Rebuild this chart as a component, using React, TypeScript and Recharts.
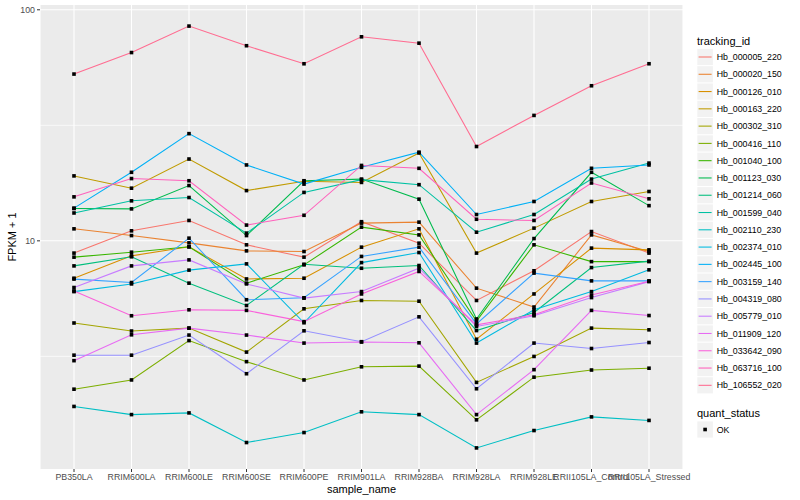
import { LineChart, Line, XAxis, YAxis, CartesianGrid, Label } from 'recharts';

const FONT = '"Liberation Sans", Arial, Helvetica, sans-serif';

const samples = [
  'PB350LA', 'RRIM600LA', 'RRIM600LE', 'RRIM600SE', 'RRIM600PE', 'RRIM901LA',
  'RRIM928BA', 'RRIM928LA', 'RRIM928LE', 'RRII105LA_Control', 'RRII105LA_Stressed',
];

const trackingIds = [
  'Hb_000005_220', 'Hb_000020_150', 'Hb_000126_010', 'Hb_000163_220', 'Hb_000302_310',
  'Hb_000416_110', 'Hb_001040_100', 'Hb_001123_030', 'Hb_001214_060', 'Hb_001599_040',
  'Hb_002110_230', 'Hb_002374_010', 'Hb_002445_100', 'Hb_003159_140', 'Hb_004319_080',
  'Hb_005779_010', 'Hb_011909_120', 'Hb_033642_090', 'Hb_063716_100', 'Hb_106552_020',
];

// ggplot default hue palette, 20 levels
const lineColors = [
  '#F8766D', '#EA8331', '#D89000', '#C09B00', '#A3A500', '#7CAE00', '#39B600', '#00BB4E',
  '#00BF7D', '#00C1A3', '#00BFC4', '#00BAE0', '#00B0F6', '#35A2FF', '#9590FF', '#C77CFF',
  '#E76BF3', '#FA62DB', '#FF62BC', '#FF6C91',
];

// FPKM + 1, one value per sample
const hb000005_220 = [8.85, 11.05, 12.25, 9.61, 8.5, 12.1, 9.77, 5.52, 7.42, 10.97, 8.85];
const hb000020_150 = [11.27, 10.54, 9.8, 9.05, 8.99, 11.93, 12.05, 6.24, 5.17, 10.61, 8.99];
const hb000126_010 = [6.89, 8.61, 9.42, 6.84, 6.89, 9.39, 11.27, 3.75, 5.89, 9.3, 9.14];
const hb000163_220 = [19.1, 16.9, 22.6, 16.5, 18.1, 17.9, 24.0, 8.85, 11.35, 14.8, 16.35];
const hb000302_310 = [4.41, 4.07, 4.19, 3.3, 5.08, 5.52, 5.48, 2.44, 3.16, 4.19, 4.12];
const hb000416_110 = [2.28, 2.5, 3.7, 3.0, 2.5, 2.85, 2.87, 1.68, 2.57, 2.76, 2.81];
const hb001040_100 = [8.5, 8.93, 9.42, 6.56, 7.87, 11.46, 10.61, 4.5, 9.61, 8.13, 8.13];
const hb001123_030 = [13.8, 13.75, 17.35, 10.54, 18.2, 18.5, 15.15, 4.59, 10.23, 19.8, 14.2];
const hb001214_060 = [7.79, 8.53, 6.56, 5.25, 7.92, 7.61, 7.82, 4.09, 4.9, 7.66, 8.17];
const hb001599_040 = [13.2, 14.9, 15.4, 10.8, 16.2, 18.4, 17.5, 10.9, 13.0, 18.5, 21.7];
const hb002110_230 = [1.92, 1.77, 1.8, 1.34, 1.48, 1.82, 1.77, 1.27, 1.51, 1.73, 1.67];
const hb002374_010 = [6.03, 6.51, 7.47, 7.95, 4.42, 8.05, 8.9, 3.61, 5.03, 6.03, 7.49];
const hb002445_100 = [13.85, 19.8, 29.1, 21.3, 17.6, 20.8, 24.2, 13.0, 14.8, 20.6, 21.3];
const hb003159_140 = [6.83, 6.6, 10.27, 5.56, 5.67, 8.56, 9.39, 4.37, 7.25, 6.71, 6.71];
const hb004319_080 = [3.2, 3.2, 3.91, 2.66, 4.08, 3.66, 4.69, 2.29, 3.61, 3.42, 3.63];
const hb005779_010 = [6.28, 7.79, 8.27, 6.51, 5.65, 6.03, 7.61, 4.26, 4.74, 5.68, 6.66];
const hb011909_120 = [3.03, 3.92, 4.19, 3.91, 3.61, 3.65, 3.62, 1.77, 2.77, 5.0, 4.75];
const hb033642_090 = [6.07, 4.74, 5.03, 5.0, 4.47, 5.89, 7.37, 4.33, 4.79, 5.83, 6.69];
const hb063716_100 = [15.5, 18.6, 18.2, 11.7, 12.9, 21.2, 20.6, 12.4, 12.25, 17.8, 15.2];
const hb106552_020 = [52.7, 65.3, 85.0, 69.9, 58.4, 76.4, 71.7, 25.6, 34.9, 46.9, 58.4];

const seriesValues = [
  hb000005_220, hb000020_150, hb000126_010, hb000163_220, hb000302_310,
  hb000416_110, hb001040_100, hb001123_030, hb001214_060, hb001599_040,
  hb002110_230, hb002374_010, hb002445_100, hb003159_140, hb004319_080,
  hb005779_010, hb011909_120, hb033642_090, hb063716_100, hb106552_020,
];

const yTicks = [10, 100];
const yMinor = [Math.sqrt(10), 10 * Math.sqrt(10)];

const data = samples.map((sample, i) => {
  const row: Record<string, any> = { sample };
  trackingIds.forEach((id, k) => {
    row[id] = seriesValues[k][i];
  });
  return row;
});

// ggplot-style 5% expansion on the log scale
const allVals = seriesValues.flat();
const logLo = Math.log10(Math.min(...allVals));
const logHi = Math.log10(Math.max(...allVals));
const ext = (logHi - logLo) * 0.05;
const yDomain = [10 ** (logLo - ext), 10 ** (logHi + ext)];

// minor grid rows: place them with the same log mapping the y axis uses
const minorRows = (props: any) => {
  const off = props?.offset;
  if (!off) return [];
  const top = Math.log10(yDomain[1]);
  const bot = Math.log10(yDomain[0]);
  return yMinor.map((v) => off.top + ((top - Math.log10(v)) / (top - bot)) * off.height);
};

const SquareDot = (p: any) => {
  if (p.cx == null || p.cy == null) return <g key={`d-${p.index}`} />;
  return (
    <rect key={`d-${p.dataKey}-${p.index}`} x={p.cx - 1.8} y={p.cy - 1.8} width={3.6} height={3.6} fill="#000" />
  );
};

const XTitle = (props: any) => {
  const vb = props.viewBox || {};
  return (
    <text x={vb.x + vb.width / 2} y={vb.y + 24} textAnchor="middle" fontSize={11} fill="#000" fontFamily={FONT}>
      sample_name
    </text>
  );
};

const YTitle = (props: any) => {
  const vb = props.viewBox || {};
  const cy = vb.y + vb.height / 2;
  return (
    <text
      x={12}
      y={cy}
      transform={`rotate(-90, 12, ${cy})`}
      textAnchor="middle"
      dominantBaseline="central"
      fontSize={11}
      fill="#000"
      fontFamily={FONT}
    >
      FPKM + 1
    </text>
  );
};

function LegendBlock() {
  const step = 17.28;
  const first = 57;
  return (
    <svg width={110} height={500} style={{ position: 'absolute', left: 690, top: 0 }}>
      <text x={7} y={44.5} fontSize={11} fill="#000" fontFamily={FONT}>tracking_id</text>
      {trackingIds.map((id, i) => {
        const cy = first + i * step;
        return (
          <g key={id}>
            <rect x={7.3} y={cy - 8.1} width={15.6} height={16.2} fill="#F2F2F2" />
            <line x1={8.6} x2={21.6} y1={cy} y2={cy} stroke={lineColors[i]} strokeWidth={1.07} />
            <text x={26.7} y={cy + 3.1} fontSize={8.8} fill="#000" fontFamily={FONT}>{id}</text>
          </g>
        );
      })}
      <text x={7} y={416.5} fontSize={11} fill="#000" fontFamily={FONT}>quant_status</text>
      <rect x={7.3} y={429.5 - 8.1} width={15.6} height={16.2} fill="#F2F2F2" />
      <rect x={13.3} y={427.7} width={3.6} height={3.6} fill="#000" />
      <text x={26.7} y={432.6} fontSize={8.8} fill="#000" fontFamily={FONT}>OK</text>
    </svg>
  );
}

export default function App() {
  return (
    <div style={{ position: 'absolute', left: 0, top: 0, width: 800, height: 500, background: '#fff' }}>
      <LineChart width={800} height={500} data={data} margin={{ top: 5, right: 117, bottom: 0, left: 0 }}>
        <CartesianGrid fill="#EBEBEB" stroke="#FFFFFF" strokeWidth={1.07} horizontalValues={yTicks} />
        <CartesianGrid
          stroke="#FFFFFF"
          strokeWidth={0.7}
          vertical={false}
          horizontalCoordinatesGenerator={minorRows}
        />
        <XAxis
          dataKey="sample"
          scale="point"
          padding={{ left: 34, right: 34 }}
          height={31}
          interval={0}
          tickSize={3}
          tickMargin={2}
          axisLine={false}
          tickLine={{ stroke: '#333333' }}
          tick={{ fontSize: 8.8, fill: '#4D4D4D', fontFamily: FONT }}
        >
          <Label content={XTitle} />
        </XAxis>
        <YAxis
          type="number"
          scale="log"
          domain={yDomain}
          allowDataOverflow
          ticks={yTicks}
          width={40}
          tickSize={3}
          tickMargin={2}
          axisLine={false}
          tickLine={{ stroke: '#333333' }}
          tick={{ fontSize: 8.8, fill: '#4D4D4D', fontFamily: FONT }}
        >
          <Label content={YTitle} />
        </YAxis>
        {trackingIds.map((id, i) => (
          <Line
            key={id}
            dataKey={id}
            type="linear"
            stroke={lineColors[i]}
            strokeWidth={1.07}
            dot={false}
            activeDot={false}
            isAnimationActive={false}
          />
        ))}
        {trackingIds.map((id) => (
          <Line
            key={`${id}-pts`}
            dataKey={id}
            type="linear"
            stroke="none"
            dot={SquareDot}
            activeDot={false}
            legendType="none"
            isAnimationActive={false}
          />
        ))}
      </LineChart>
      <LegendBlock />
    </div>
  );
}
